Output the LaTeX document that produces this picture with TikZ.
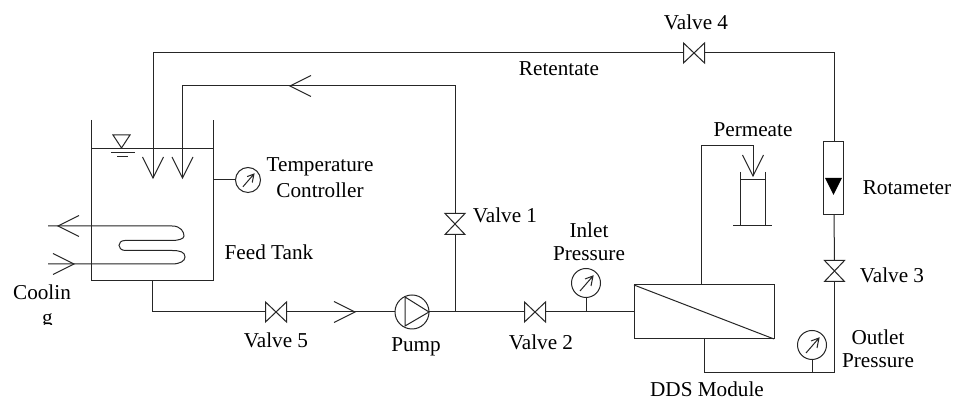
\documentclass[tikz,border=0pt]{standalone}
\usepackage{fontspec}
\setmainfont{Liberation Serif}
\newcommand\ohead[2]{\draw[pipe,shift={(#1)},rotate=#2] (-21,-10.5) -- (0,0) -- (-21,10.5);}
\newcommand\needle[2]{\draw[pipe,shift={(#1.center)},scale=#2] (-6,8) -- (7,-7) (-1,-4) -- (7,-7) -- (5,3);}
\newcommand\hvalve[1]{\draw[pipe] (#1.north west) -- (#1.south east) -- (#1.north east) -- (#1.south west) -- cycle;}
\newcommand\vvalve[1]{\draw[pipe] (#1.north west) -- (#1.north east) -- (#1.south west) -- (#1.south east) -- cycle;}
\tikzset{
  pipe/.style={line width=0.5pt,draw=black!85},
  valveh/.style={rectangle,inner sep=0,outer sep=0,minimum width=10.5pt,minimum height=10pt},
  valvev/.style={rectangle,inner sep=0,outer sep=0,minimum width=10pt,minimum height=10.5pt},
  gauge/.style={circle,pipe,inner sep=0,outer sep=0,minimum size=14.5pt},
  box/.style={rectangle,pipe,inner sep=0,outer sep=0},
  lbl/.style={font=\fontsize{10.6pt}{12pt}\selectfont,text=black,inner sep=0,outer sep=0}
}
\begin{document}
\begin{tikzpicture}[x=0.5pt,y=-0.5pt]
\useasboundingbox[fill=white] (0,0) rectangle (955,399);
% coordinates
\coordinate (tl) at (91,120); \coordinate (tr) at (213,120);
\coordinate (bl) at (91,281); \coordinate (br) at (213,281);
\coordinate (ll) at (91,149); \coordinate (lr) at (213,149);
\coordinate (ret) at (153,178); \coordinate (rec) at (182.5,178);
\coordinate (c1) at (153,53); \coordinate (c2) at (834,53);
\coordinate (c3) at (182.5,86); \coordinate (c4) at (455,86);
\coordinate (j1) at (455,312); \coordinate (d1) at (152.5,281); \coordinate (d2) at (152.5,312);
\coordinate (a1) at (290,86); \coordinate (a2) at (355,312);
\coordinate (t1) at (213,180);
\coordinate (j2) at (586,312.5);
\coordinate (o1) at (834.5,373); \coordinate (o2) at (704,373); \coordinate (o3) at (704,339);
\coordinate (j3) at (812,373);
\coordinate (p1) at (701.5,285); \coordinate (p2) at (701.5,146); \coordinate (p3) at (753,146); \coordinate (p4) at (753,176);
\coordinate (cw1) at (48,226); \coordinate (cw2) at (48,264);
\coordinate (cw3) at (58,226); \coordinate (cw4) at (74,264);
% equipment nodes
\node[valveh] (v2) at (535,312) {};
\node[valveh] (v4) at (694,53) {};
\node[valveh] (v5) at (276,312) {};
\node[valvev] (v1) at (455,224) {};
\node[valvev] (v3) at (834.5,271) {};
\node[circle,pipe,draw,inner sep=0,outer sep=0,minimum size=17pt] (pump) at (412,312) {};
\node[gauge,draw] (gin) at (586,283) {};
\node[gauge,draw] (gout) at (812,345) {};
\node[gauge,draw,minimum size=12.5pt] (gt) at (248,180) {};
\node[box,draw,minimum width=10pt,minimum height=36.5pt] (rot) at (833,178.5) {};
\node[box,draw,minimum width=70pt,minimum height=27pt] (mod) at (704,312) {};
% tank
\draw[pipe] (tl) -- (bl) -- (br) -- (tr) (ll) -- (lr);
\draw[pipe] (113,135) -- (130,135) -- (121.5,148) -- cycle;
\draw[pipe] (111,153) -- (135,153) (117,157) -- (128,157);
% coil
\draw[pipe] (cw1) -- (172,226) .. controls (181,226) and (184,232) .. (184,236)
  .. controls (184,239) and (178,240.5) .. (172,240.5) -- (125,240.5)
  .. controls (117,240.5) and (117,250) .. (125,250.5) -- (172,250.5)
  .. controls (180,250.5) and (185,252) .. (185,257)
  .. controls (185,261) and (180,264) .. (172,264) -- (cw2);
% pipes
\draw[pipe] (ret) -- (c1) -- (v4.west);
\draw[pipe] (v4.east) -- (c2) -- (rot.north -| c2);
\draw[pipe] (rec) -- (c3) -- (c4) -- (v1.north);
\draw[pipe] (v1.south) -- (j1);
\draw[pipe] (d1) -- (d2) -- (v5.west);
\draw[pipe] (v5.east) -- (pump.west);
\draw[pipe] (pump.east) -- (v2.west);
\draw[pipe] (v2.east) -- (mod.west);
\draw[pipe] (gin.south) -- (j2);
\draw[pipe] (gt.west) -- (t1);
\draw[pipe] (rot.south -| c2) -- (v3.north);
\draw[pipe] (v3.south) -- (o1) -- (o2) -- (o3);
\draw[pipe] (gout.south) -- (j3);
\draw[pipe] (p1) -- (p2) -- (p3) -- (p4);
\draw[pipe] (mod.north west) -- (mod.south east);
% valves
\foreach \v in {v2,v4,v5} {\hvalve{\v}}
\foreach \v in {v1,v3} {\vvalve{\v}}
% pump impeller
\draw[pipe] (405,297) -- (429,312) -- (405,326) -- cycle;
% gauge needles
\needle{gin}{1} \needle{gout}{1} \needle{gt}{0.85}
% rotameter float
\fill[black] (825,178) -- (842,178) -- (833.5,195) -- cycle;
% beaker
\draw[pipe] (740,172) -- (740,226) (765,172) -- (765,226) (740,180) -- (765,180) (733,226) -- (772,226);
% flow arrows
\ohead{ret}{-90} \ohead{rec}{-90} \ohead{a1}{180} \ohead{a2}{0}
\ohead{cw3}{180} \ohead{cw4}{0} \ohead{p4}{-90}
% labels
\node[lbl] (lv4) at (696,22) {Valve 4};
\node[lbl] (lret) at (559,69) {Retentate};
\node[lbl] (lperm) at (753,130) {Permeate};
\node[lbl] (lrot) at (907,188) {Rotameter};
\node[lbl] (lv3) at (892,275) {Valve 3};
\node[lbl] (lout1) at (878,337) {Outlet};
\node[lbl] (lout2) at (878,361) {Pressure};
\node[lbl] (ldds) at (707,389) {DDS Module};
\node[lbl] (lin1) at (589,230) {Inlet};
\node[lbl] (lin2) at (589,254) {Pressure};
\node[lbl] (lv1) at (505,215) {Valve 1};
\node[lbl] (lv2) at (541,342) {Valve 2};
\node[lbl] (lpump) at (416,347) {Pump};
\node[lbl] (lv5) at (276,340) {Valve 5};
\node[lbl] (lfeed) at (269,252) {Feed Tank};
\node[lbl] (ltemp1) at (320,167) {Temperature};
\node[lbl] (ltemp2) at (320,190) {Controller};
\node[lbl] (lcool1) at (42,292) {Coolin};
\begin{scope}
\clip (30,300) rectangle (62,325);
\node[lbl,anchor=base] (lcool2) at (47.5,325) {g};
\end{scope}
\end{tikzpicture}
\end{document}
